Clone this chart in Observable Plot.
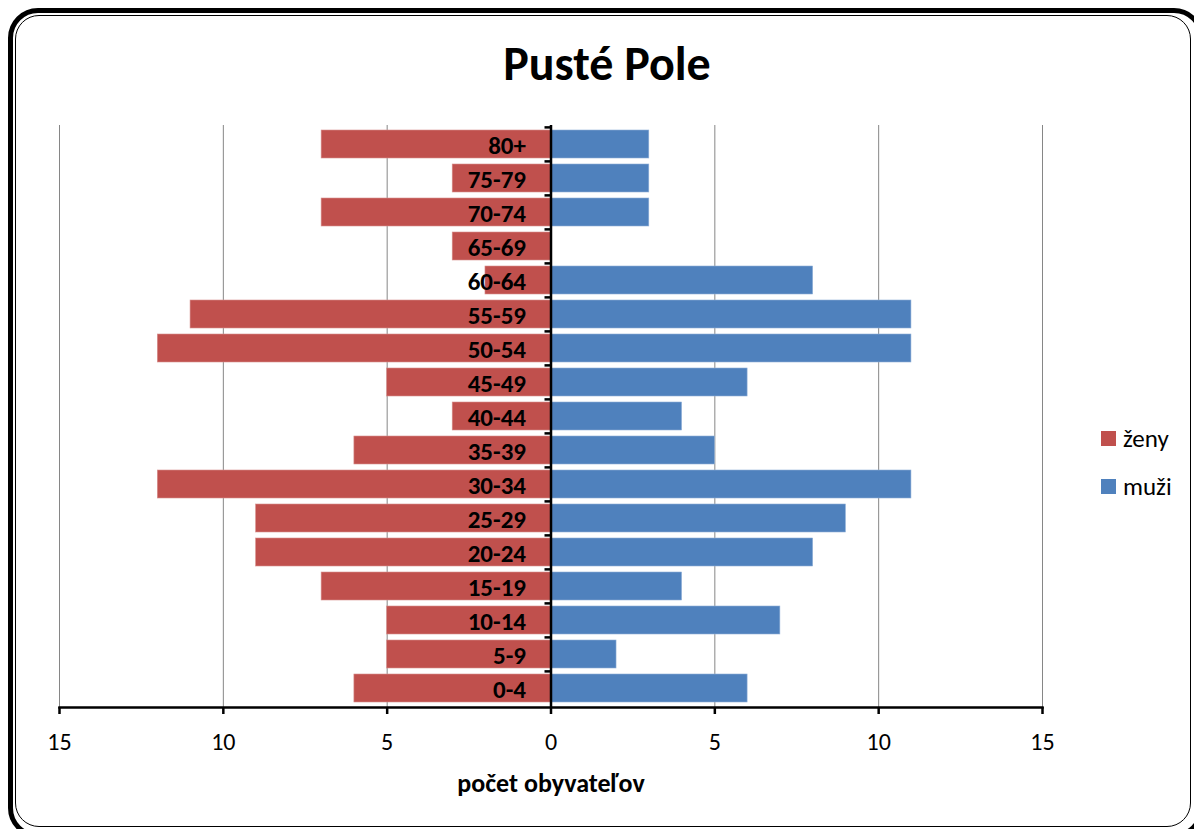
<!DOCTYPE html>
<html>
<head>
<meta charset="utf-8">
<script src="https://cdn.jsdelivr.net/npm/d3@7"></script>
<script src="https://cdn.jsdelivr.net/npm/@observablehq/plot@0.6"></script>
<style>
  html, body { margin: 0; padding: 0; background: #fff; overflow: hidden; }
  #wrap { position: relative; width: 1194px; height: 829px; font-family: Carlito, Lato, "Open Sans", sans-serif; }
  #chart { position: absolute; left: 0; top: 0; }
  .frame-outer { position: absolute; left: 8px; top: 8px; width: 1196px; height: 830px; border: 5px solid #000; border-radius: 30px; box-sizing: border-box; pointer-events: none; z-index: 3; }
  .frame-inner { position: absolute; left: 15px; top: 15px; width: 1176px; height: 812px; border: 1.5px solid #000; border-radius: 24px; box-sizing: border-box; pointer-events: none; z-index: 3; }
  #title { position: absolute; left: 0; width: 1214px; top: 34px; line-height: 60px; text-align: center; font-size: 48px; font-weight: bold; color: #000; z-index: 2; }
  #legend { position: absolute; left: 1101px; top: 423px; z-index: 2; font-size: 25px; color: #000; }
  #legend .item { display: flex; align-items: center; height: 30px; margin-bottom: 18px; }
  #legend .sw { width: 15px; height: 15px; margin-right: 7px; }
  #chart g[aria-label="x-axis label"] text { font-weight: bold; font-size: 26px; }
</style>
</head>
<body>
<div id="wrap">
  <div class="frame-outer"></div>
  <div class="frame-inner"></div>
  <div id="title">Pusté Pole</div>
  <div id="chart"></div>
  <div id="legend"></div>
</div>
<script>
const ages = ["80+","75-79","70-74","65-69","60-64","55-59","50-54","45-49","40-44","35-39","30-34","25-29","20-24","15-19","10-14","5-9","0-4"];
const zeny = [7,3,7,3,2,11,12,5,3,6,12,9,9,7,5,5,6];
const muzi = [3,3,3,0,8,11,11,6,4,5,11,9,8,4,7,2,6];
const xTicks = [-15,-10,-5,0,5,10,15];
const gridTicks = [-15,-10,-5,5,10,15];
const seriesNames = ["ženy","muži"];
const colors = ["#C0504D","#4F81BD"];

const rows = ages.map((a, i) => ({age: a, zeny: zeny[i], muzi: muzi[i]}));

const W = 1194, H = 829, mt = 125, mb = 122, ml = 59, mr = 152;
const step = (H - mt - mb) / ages.length;

const plot = Plot.plot({
  width: W, height: H,
  marginTop: mt, marginBottom: mb, marginLeft: ml, marginRight: mr,
  style: {background: "transparent", fontFamily: "Carlito, Lato, 'Open Sans', sans-serif", color: "#000"},
  x: {domain: [-15, 15]},
  y: {domain: ages, paddingInner: 0.17, paddingOuter: 0.085, axis: null},
  marks: [
    Plot.ruleX(gridTicks, {stroke: "#868686", strokeWidth: 1}),
    Plot.barX(rows, {y: "age", x1: 0, x2: d => -d.zeny, fill: colors[0], stroke: "#d7908e", strokeWidth: 0.6}),
    Plot.barX(rows, {y: "age", x1: 0, x2: d => d.muzi, fill: colors[1], stroke: "#8fb0d8", strokeWidth: 0.6}),
    Plot.ruleX([0], {stroke: "#000", strokeWidth: 2.5}),
    Plot.ruleY(ages, {y: d => d, x1: 0, x2: 0, insetLeft: -6, dy: -step / 2, stroke: "#000", strokeWidth: 2.5}),
    Plot.text(rows, {y: "age", x: 0, text: "age", textAnchor: "end", dx: -25, dy: 1, fontSize: 25, fontWeight: "bold", fill: "#000"}),
    Plot.frame({anchor: "bottom", stroke: "#000", strokeWidth: 2.5}),
    Plot.axisX({ticks: xTicks, tickFormat: d => Math.abs(d), tickSize: 7, tickPadding: 18, fontSize: 24, stroke: "#000", strokeWidth: 2.5,
      label: "počet obyvateľov", labelAnchor: "center", labelArrow: "none", labelOffset: 84})
  ]
});
document.getElementById("chart").appendChild(plot);

const legend = document.getElementById("legend");
seriesNames.forEach((n, i) => {
  const it = document.createElement("div");
  it.className = "item";
  it.innerHTML = `<div class="sw" style="background:${colors[i]}"></div><span>${n}</span>`;
  legend.appendChild(it);
});
</script>
</body>
</html>
